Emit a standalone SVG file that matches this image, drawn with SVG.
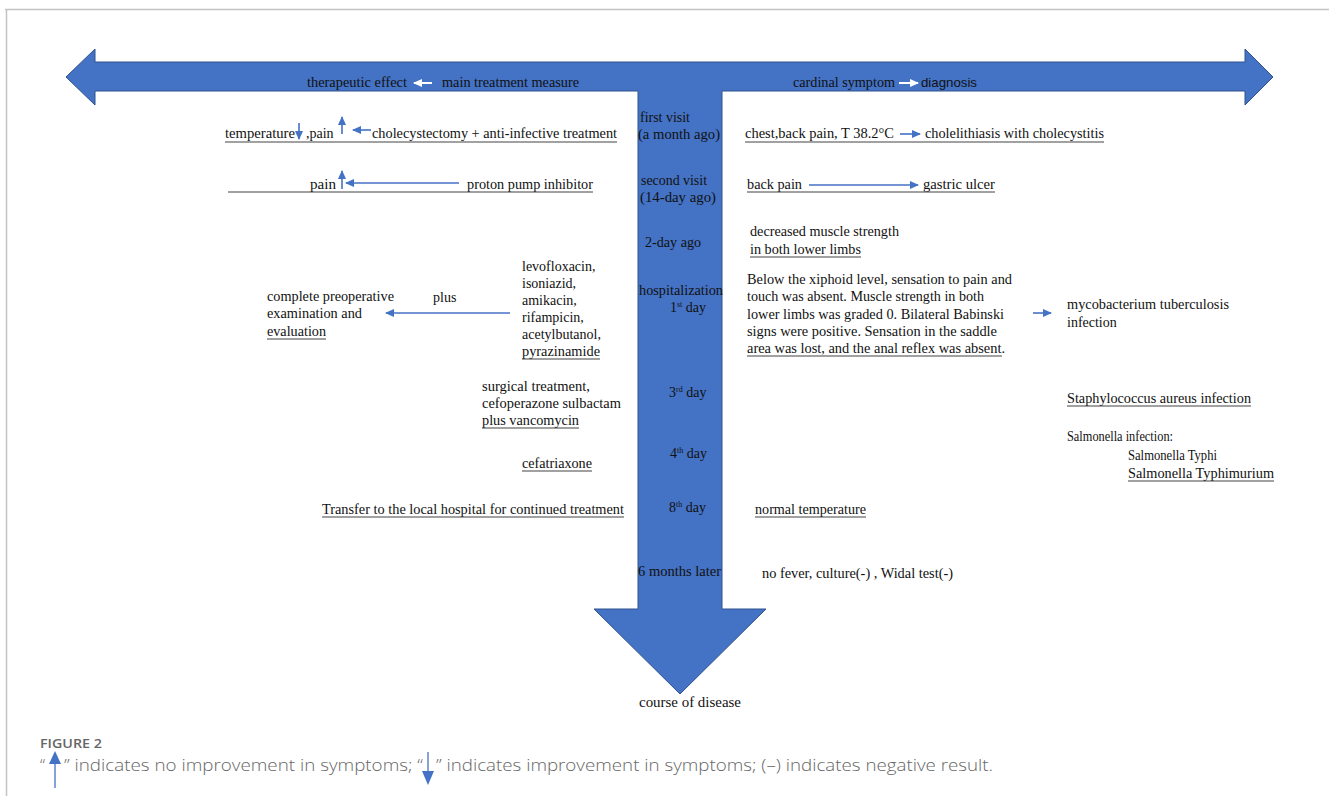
<svg xmlns="http://www.w3.org/2000/svg" width="1329" height="796" viewBox="0 0 1329 796">
<style>
.t{font-family:"Liberation Serif","Times New Roman",serif;font-size:14px;fill:#111}
.s{font-family:"Liberation Sans",Arial,sans-serif;font-size:13px;fill:#111}
.u{stroke:#444;stroke-width:1.1}
.c{stroke:#4472C4;stroke-width:1.6;fill:none}
.w{stroke:#fff;stroke-width:2;fill:none}
.cap{font-family:"Open Sans","Noto Sans",sans-serif;fill:#666}
</style>
<defs>
<marker id="ab" markerUnits="userSpaceOnUse" markerWidth="10" markerHeight="10" refX="8" refY="5" orient="auto"><path d="M0,1 L9,5 L0,9 Z" fill="#4472C4"/></marker>
<marker id="aw" markerUnits="userSpaceOnUse" markerWidth="10" markerHeight="10" refX="8" refY="5" orient="auto"><path d="M0,1 L9,5 L0,9 Z" fill="#fff"/></marker>
</defs>
<rect width="1329" height="796" fill="#fff"/>
<path d="M5,9.5 H1329 M6.5,9 V796" stroke="#c4c4c4" stroke-width="1.5" fill="none"/>

<g id="timeline-arrows">
<polygon points="66,77 95,49 95,62 1245,62 1245,49 1273,77 1245,105 1245,91 722,91 722,609 766,609 680,694 594,609 638,609 638,91 95,91 95,105" fill="#4472C4" stroke="#2F528F" stroke-width="1"/>
</g>

<g id="connectors">
<line class="w" x1="432" y1="83" x2="414" y2="83" marker-end="url(#aw)"/>
<line class="w" x1="899" y1="83" x2="918" y2="83" marker-end="url(#aw)"/>
<line class="c" x1="299" y1="123" x2="299" y2="139" marker-end="url(#ab)"/>
<line class="c" x1="342" y1="134" x2="342" y2="117" marker-end="url(#ab)"/>
<line class="c" x1="371" y1="130" x2="353" y2="130" marker-end="url(#ab)"/>
<line class="c" x1="342" y1="189" x2="342" y2="171" marker-end="url(#ab)"/>
<line class="c" x1="459" y1="183" x2="346" y2="183" marker-end="url(#ab)"/>
<line class="c" x1="900" y1="134" x2="920" y2="134" marker-end="url(#ab)"/>
<line class="c" x1="809" y1="185" x2="918" y2="185" marker-end="url(#ab)"/>
<line class="c" x1="510" y1="313" x2="386" y2="313" marker-end="url(#ab)"/>
<line class="c" x1="1033" y1="313" x2="1051" y2="313" marker-end="url(#ab)"/>
</g>

<g id="header">
<text class="t" x="307" y="87" textLength="100" lengthAdjust="spacingAndGlyphs">therapeutic effect</text>
<text class="t" x="442" y="87" textLength="137" lengthAdjust="spacingAndGlyphs">main treatment measure</text>
<text class="t" x="793" y="87" textLength="102" lengthAdjust="spacingAndGlyphs">cardinal symptom</text>
<text class="s" x="921" y="87" textLength="56" lengthAdjust="spacingAndGlyphs">diagnosis</text>
</g>

<g id="time-labels">
<text class="t" x="640" y="122" textLength="50" lengthAdjust="spacingAndGlyphs">first visit</text>
<text class="t" x="638" y="139" textLength="82" lengthAdjust="spacingAndGlyphs">(a month ago)</text>
<text class="t" x="641" y="185" textLength="66" lengthAdjust="spacingAndGlyphs">second visit</text>
<text class="t" x="640" y="202" textLength="76" lengthAdjust="spacingAndGlyphs">(14-day ago)</text>
<text class="t" x="645" y="247" textLength="56" lengthAdjust="spacingAndGlyphs">2-day ago</text>
<text class="t" x="639" y="295" textLength="84" lengthAdjust="spacingAndGlyphs">hospitalization</text>
<text class="t" x="670" y="312">1<tspan font-size="8" dy="-5">st</tspan><tspan dy="5"> day</tspan></text>
<text class="t" x="669" y="397">3<tspan font-size="8" dy="-5">rd</tspan><tspan dy="5"> day</tspan></text>
<text class="t" x="670" y="458">4<tspan font-size="8" dy="-5">th</tspan><tspan dy="5"> day</tspan></text>
<text class="t" x="669" y="512">8<tspan font-size="8" dy="-5">th</tspan><tspan dy="5"> day</tspan></text>
<text class="t" x="638" y="576" textLength="83" lengthAdjust="spacingAndGlyphs">6 months later</text>
<text class="t" x="639" y="707" textLength="102" lengthAdjust="spacingAndGlyphs">course of disease</text>
</g>

<g id="row-first-visit-left">
<text class="t" x="225" y="138" textLength="70" lengthAdjust="spacingAndGlyphs">temperature</text>
<text class="t" x="306" y="138">,pain</text>
<text class="t" x="372" y="138" textLength="245" lengthAdjust="spacingAndGlyphs">cholecystectomy + anti-infective treatment</text>
<line class="u" x1="225" y1="142" x2="617" y2="142"/>
</g>
<g id="row-first-visit-right">
<text class="t" x="745" y="138" textLength="149" lengthAdjust="spacingAndGlyphs">chest,back pain, T 38.2°C</text>
<text class="t" x="925" y="138" textLength="179" lengthAdjust="spacingAndGlyphs">cholelithiasis with cholecystitis</text>
<line class="u" x1="745" y1="142" x2="1104" y2="142"/>
</g>
<g id="row-second-visit-left">
<text class="t" x="310" y="189" textLength="26" lengthAdjust="spacingAndGlyphs">pain</text>
<text class="t" x="467" y="189" textLength="126" lengthAdjust="spacingAndGlyphs">proton pump inhibitor</text>
<line class="u" x1="228" y1="192" x2="593" y2="192"/>
</g>
<g id="row-second-visit-right">
<text class="t" x="747" y="189" textLength="55" lengthAdjust="spacingAndGlyphs">back pain</text>
<text class="t" x="923" y="189" textLength="72" lengthAdjust="spacingAndGlyphs">gastric ulcer</text>
<line class="u" x1="747" y1="192" x2="995" y2="192"/>
</g>
<g id="row-2day-right">
<text class="t" x="750" y="236" textLength="149" lengthAdjust="spacingAndGlyphs">decreased muscle strength</text>
<text class="t" x="750" y="254" textLength="111" lengthAdjust="spacingAndGlyphs">in both lower limbs</text>
<line class="u" x1="750" y1="257" x2="861" y2="257"/>
</g>
<g id="hosp-left-eval">
<text class="t" x="267" y="301" textLength="127" lengthAdjust="spacingAndGlyphs">complete preoperative</text>
<text class="t" x="267" y="318" textLength="95" lengthAdjust="spacingAndGlyphs">examination and</text>
<text class="t" x="267" y="336" textLength="59" lengthAdjust="spacingAndGlyphs">evaluation</text>
<line class="u" x1="267" y1="339" x2="326" y2="339"/>
<text class="t" x="433" y="302">plus</text>
</g>
<g id="hosp-left-drugs">
<text class="t" x="522" y="271">levofloxacin,</text>
<text class="t" x="522" y="288">isoniazid,</text>
<text class="t" x="522" y="305">amikacin,</text>
<text class="t" x="522" y="322">rifampicin,</text>
<text class="t" x="522" y="339">acetylbutanol,</text>
<text class="t" x="522" y="356" textLength="78" lengthAdjust="spacingAndGlyphs">pyrazinamide</text>
<line class="u" x1="522" y1="359" x2="600" y2="359"/>
</g>
<g id="hosp-right-exam">
<text class="t" x="747" y="284" textLength="265" lengthAdjust="spacingAndGlyphs">Below the xiphoid level, sensation to pain and</text>
<text class="t" x="747" y="301" textLength="237" lengthAdjust="spacingAndGlyphs">touch was absent. Muscle strength in both</text>
<text class="t" x="747" y="319" textLength="257" lengthAdjust="spacingAndGlyphs">lower limbs was graded 0. Bilateral Babinski</text>
<text class="t" x="747" y="336" textLength="250" lengthAdjust="spacingAndGlyphs">signs were positive. Sensation in the saddle</text>
<text class="t" x="747" y="353" textLength="258" lengthAdjust="spacingAndGlyphs">area was lost, and the anal reflex was absent.</text>
<line class="u" x1="747" y1="356" x2="1002" y2="356"/>
</g>
<g id="dx-tb">
<text class="t" x="1067" y="309" textLength="162" lengthAdjust="spacingAndGlyphs">mycobacterium tuberculosis</text>
<text class="t" x="1067" y="327">infection</text>
</g>
<g id="day3-left">
<text class="t" x="482" y="391" textLength="108" lengthAdjust="spacingAndGlyphs">surgical treatment,</text>
<text class="t" x="482" y="408" textLength="139" lengthAdjust="spacingAndGlyphs">cefoperazone sulbactam</text>
<text class="t" x="482" y="425" textLength="97" lengthAdjust="spacingAndGlyphs">plus vancomycin</text>
<line class="u" x1="482" y1="428" x2="579" y2="428"/>
</g>
<g id="dx-staph">
<text class="t" x="1067" y="403" textLength="184" lengthAdjust="spacingAndGlyphs">Staphylococcus aureus infection</text>
<line class="u" x1="1067" y1="406" x2="1251" y2="406"/>
</g>
<g id="day4-left">
<text class="t" x="522" y="468" textLength="70" lengthAdjust="spacingAndGlyphs">cefatriaxone</text>
<line class="u" x1="522" y1="471" x2="592" y2="471"/>
</g>
<g id="dx-salmonella">
<text class="t" x="1067" y="441" textLength="106" lengthAdjust="spacingAndGlyphs">Salmonella infection:</text>
<text class="t" x="1128" y="460" textLength="89" lengthAdjust="spacingAndGlyphs">Salmonella Typhi</text>
<text class="t" x="1128" y="478" textLength="146" lengthAdjust="spacingAndGlyphs">Salmonella Typhimurium</text>
<line class="u" x1="1128" y1="481" x2="1274" y2="481"/>
</g>
<g id="day8-left">
<text class="t" x="322" y="514" textLength="302" lengthAdjust="spacingAndGlyphs">Transfer to the local hospital for continued treatment</text>
<line class="u" x1="322" y1="517" x2="624" y2="517"/>
</g>
<g id="day8-right">
<text class="t" x="755" y="514" textLength="111" lengthAdjust="spacingAndGlyphs">normal temperature</text>
<line class="u" x1="755" y1="517" x2="866" y2="517"/>
</g>
<g id="month6-right">
<text class="t" x="762" y="578" textLength="191" lengthAdjust="spacingAndGlyphs">no fever, culture(-) , Widal test(-)</text>
</g>

<g id="caption">
<text class="cap" x="40" y="748" font-size="13" font-weight="600" fill="#777" textLength="62" lengthAdjust="spacingAndGlyphs">FIGURE 2</text>
<text class="cap" x="40" y="771" font-size="17" font-weight="300">“</text>
<text class="cap" x="64" y="771" font-size="17" font-weight="300" textLength="359" lengthAdjust="spacingAndGlyphs">” indicates no improvement in symptoms; “</text>
<text class="cap" x="436" y="771" font-size="17" font-weight="300" textLength="557" lengthAdjust="spacingAndGlyphs">” indicates improvement in symptoms; (–) indicates negative result.</text>
<path d="M55,764 V788" stroke="#4472C4" stroke-width="1.3"/>
<polygon points="55,751 49,764 61,764" fill="#4472C4"/>
<path d="M428,752 V772" stroke="#4472C4" stroke-width="1.3"/>
<polygon points="428,785 422,771 434,771" fill="#4472C4"/>
</g>
</svg>
